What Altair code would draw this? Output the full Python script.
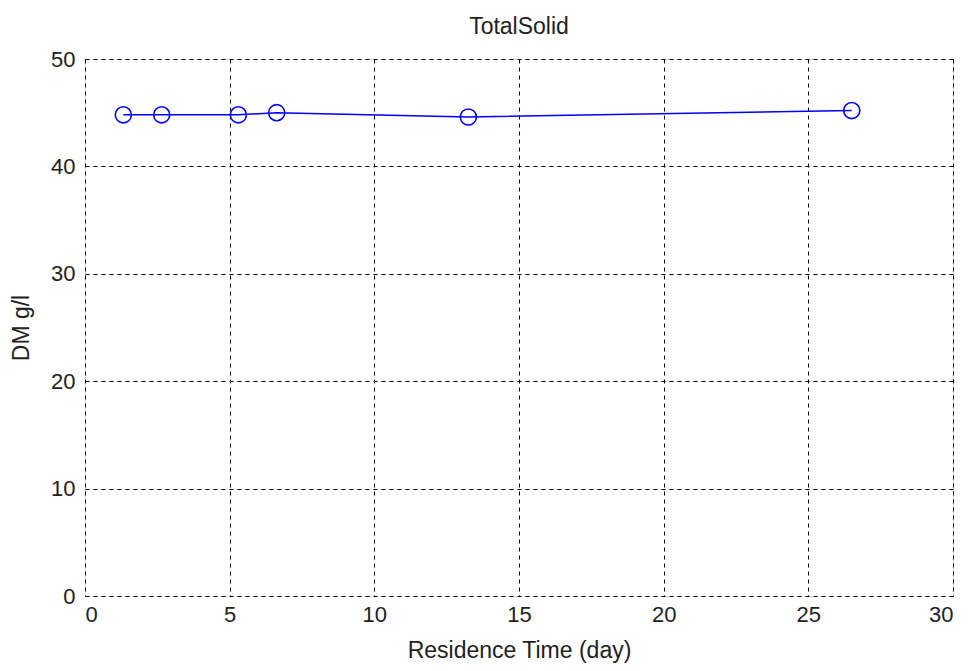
import altair as alt
import pandas as pd

residence_time = [1.325, 2.65, 5.3, 6.625, 13.25, 26.5]
dm = [44.8, 44.8, 44.8, 45.0, 44.6, 45.2]

df = pd.DataFrame({"t": residence_time, "dm": dm})

FONT = "Liberation Sans"
TICK_FS = 22
TITLE_FS = 23

x = alt.X("t:Q", scale=alt.Scale(domain=[0, 30], nice=False, zero=False),
          axis=alt.Axis(values=[0, 5, 10, 15, 20, 25, 30], title="Residence Time (day)",
                        labelPadding=8, titlePadding=14, tickSize=0, domain=False,
                        grid=True, gridDash=[4, 4], gridColor="black", gridOpacity=1,
                        labelFontSize=TICK_FS, titleFontSize=TITLE_FS, labelColor="#222",
                        titleColor="#222", titleFontWeight="normal",
                        labelFont=FONT, titleFont=FONT))
y = alt.Y("dm:Q", scale=alt.Scale(domain=[0, 50], nice=False, zero=False),
          axis=alt.Axis(values=[0, 10, 20, 30, 40, 50], title="DM g/l",
                        labelPadding=10, titlePadding=17, tickSize=0, domain=False,
                        grid=True, gridDash=[4, 4], gridColor="black", gridOpacity=1,
                        labelFontSize=TICK_FS, titleFontSize=TITLE_FS, labelColor="#222",
                        titleColor="#222", titleFontWeight="normal",
                        labelFont=FONT, titleFont=FONT))

line = alt.Chart(df).mark_line(color="#0000FF", strokeWidth=1.5).encode(x=x, y=y)
pts = alt.Chart(df).mark_point(shape="circle", size=260, filled=False,
                               color="#0000FF", strokeWidth=1.6, opacity=1).encode(x="t:Q", y="dm:Q")

chart = (line + pts).properties(
    width=868, height=537,
    title=alt.TitleParams("TotalSolid", fontSize=TITLE_FS, font=FONT, fontWeight="normal",
                          color="#222", offset=9),
    autosize=alt.AutoSizeParams(type="none"),
    padding={"left": 85, "top": 59, "right": 15, "bottom": 75},
).configure_view(stroke="black", strokeWidth=1.5).configure(background="white")

chart.save("out.html", embed_options={"renderer": "svg", "actions": False})
